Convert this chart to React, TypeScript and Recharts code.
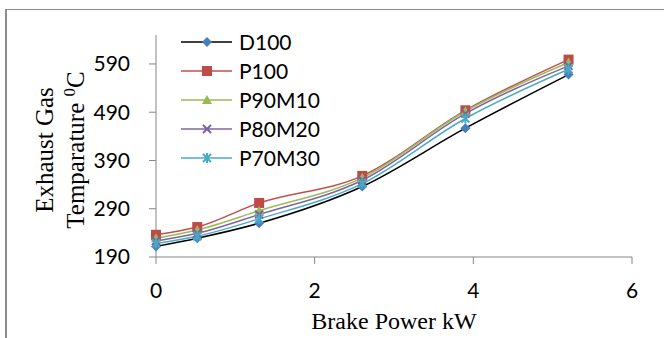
import React from "react";
import {
  LineChart,
  Line,
  XAxis,
  YAxis,
} from "recharts";

// brake power (kW) and exhaust gas temperature (deg C) per fuel blend
const POWER = [0, 0.52, 1.3, 2.6, 3.9, 5.2];
const D100 = [212, 229, 260, 336, 457, 568];
const P100 = [236, 252, 302, 358, 494, 599];
const P90M10 = [229, 246, 286, 354, 492, 593];
const P80M20 = [223, 239, 278, 349, 487, 586];
const P70M30 = [218, 233, 269, 342, 477, 579];

const X_TICKS = [0, 2, 4, 6];
const Y_TICKS = [190, 290, 390, 490, 590];

const SERIES = [
  { key: "D100", values: D100, line: "#000000", fill: "#4A7EBB", shape: "diamond" },
  { key: "P100", values: P100, line: "#C0504D", fill: "#BE4B48", shape: "square" },
  { key: "P90M10", values: P90M10, line: "#9BBB59", fill: "#98B954", shape: "triangle" },
  { key: "P80M20", values: P80M20, line: "#8064A2", fill: "#7D60A0", shape: "x" },
  { key: "P70M30", values: P70M30, line: "#4BACC6", fill: "#46AAC5", shape: "star" },
];

const data = POWER.map((p, i) => {
  const row: Record<string, number> = { power: p };
  SERIES.forEach((s) => {
    row[s.key] = s.values[i];
  });
  return row;
});

const AXIS = "#868686";
const SANS = "Lato, 'Liberation Sans', sans-serif";
const SERIF = "'Liberation Serif', 'Times New Roman', serif";

function Marker({ cx, cy, shape, color }: { cx: number; cy: number; shape: string; color: string }) {
  if (shape === "diamond") {
    return <polygon points={`${cx},${cy - 5} ${cx + 5},${cy} ${cx},${cy + 5} ${cx - 5},${cy}`} fill={color} />;
  }
  if (shape === "square") {
    return <rect x={cx - 5} y={cy - 5} width={10} height={10} fill={color} />;
  }
  if (shape === "triangle") {
    return <polygon points={`${cx},${cy - 5} ${cx + 5},${cy + 4} ${cx - 5},${cy + 4}`} fill={color} />;
  }
  if (shape === "x") {
    return (
      <g stroke={color} strokeWidth={2}>
        <line x1={cx - 4} y1={cy - 4} x2={cx + 4} y2={cy + 4} />
        <line x1={cx - 4} y1={cy + 4} x2={cx + 4} y2={cy - 4} />
      </g>
    );
  }
  return (
    <g stroke={color} strokeWidth={2}>
      <line x1={cx - 4} y1={cy - 4} x2={cx + 4} y2={cy + 4} />
      <line x1={cx - 4} y1={cy + 4} x2={cx + 4} y2={cy - 4} />
      <line x1={cx} y1={cy - 5} x2={cx} y2={cy + 5} />
    </g>
  );
}

function LegendBox() {
  return (
    <div style={{ position: "absolute", left: 181, top: 27, fontFamily: SANS, fontSize: 21 }}>
      {SERIES.map((s) => (
        <div key={s.key} style={{ display: "flex", alignItems: "center", height: 29 }}>
          <svg width={58} height={20}>
            <line x1={0} y1={10} x2={51} y2={10} stroke={s.line} strokeWidth={1.5} />
            <Marker cx={26} cy={10} shape={s.shape} color={s.fill} />
          </svg>
          <span>{s.key}</span>
        </div>
      ))}
    </div>
  );
}

export default function App() {
  return (
    <div style={{ position: "absolute", left: 0, top: 0, width: 664, height: 338, background: "#fff", overflow: "hidden" }}>
      <div
        style={{
          position: "absolute",
          left: 5,
          top: 9,
          width: 700,
          height: 400,
          borderTop: "1px solid #8c8c8c",
          borderLeft: "2px solid #8c8c8c",
        }}
      />
      <LineChart
        width={664}
        height={338}
        data={data}
        margin={{ top: 35, right: 32, bottom: 31, left: 96 }}
        style={{ position: "absolute", left: 0, top: 0 }}
      >
        <XAxis
          dataKey="power"
          type="number"
          domain={[0, 6]}
          ticks={X_TICKS}
          height={50}
          stroke={AXIS}
          tickSize={7}
          tickMargin={19}
          tick={{ fill: "#000", fontSize: 21, fontFamily: SANS }}
        />
        <YAxis
          type="number"
          domain={[190, 650]}
          ticks={Y_TICKS}
          width={60}
          stroke={AXIS}
          tickSize={7}
          tickMargin={19}
          tick={{ fill: "#000", fontSize: 21, fontFamily: SANS }}
        />
        {SERIES.map((s) => (
          <Line
            key={s.key}
            dataKey={s.key}
            type="monotone"
            stroke={s.line}
            strokeWidth={1.5}
            isAnimationActive={false}
            dot={(p: any) => (
              <Marker key={`${s.key}-${p.index}`} cx={p.cx} cy={p.cy} shape={s.shape} color={s.fill} />
            )}
            activeDot={false}
          />
        ))}
      </LineChart>
      <LegendBox />
      <div
        style={{
          position: "absolute",
          left: 394 - 150,
          top: 306,
          width: 300,
          textAlign: "center",
          fontFamily: SERIF,
          fontSize: 24,
          lineHeight: "30px",
        }}
      >
        Brake Power kW
      </div>
      <div
        style={{
          position: "absolute",
          left: 60 - 130,
          top: 150 - 31,
          width: 260,
          height: 62,
          transform: "rotate(-90deg)",
          textAlign: "center",
          fontFamily: SERIF,
          fontSize: 25,
          lineHeight: "31px",
        }}
      >
        <div>Exhaust Gas</div>
        <div>
          Temparature <sup style={{ fontSize: 17, lineHeight: 0 }}>0</sup>C
        </div>
      </div>
    </div>
  );
}
